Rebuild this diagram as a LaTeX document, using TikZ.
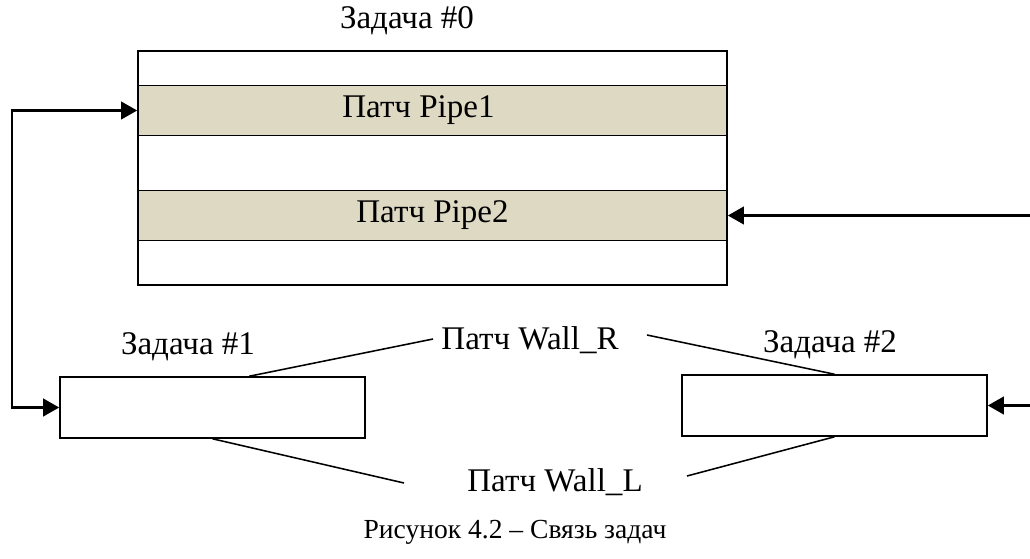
\documentclass[tikz,border=0pt]{standalone}
\usepackage{fontspec}
\setmainfont{Liberation Serif}
\usetikzlibrary{arrows.meta,positioning,calc}
\definecolor{patchFill}{HTML}{DDD9C3}
\tikzset{
  taskbox/.style={draw, line width=1.1pt, fill=white, inner sep=0pt,
    minimum width=7.625cm, minimum height=1.525cm},
  patchband/.style={taskbox, fill=patchFill, minimum width=14.725cm, minimum height=1.25cm},
  tasklabel/.style={inner sep=1pt},
  link/.style={-{Triangle[length=4mm, width=4.4mm]}, line width=1.5pt},
  link2/.style={{Triangle[length=4mm, width=4.4mm]}-{Triangle[length=4mm, width=4.4mm]}, line width=1.5pt},
  patchline/.style={line width=1.1pt}
}
\begin{document}
\begin{tikzpicture}[x=0.025cm, y=-0.025cm, font=\fontsize{23.5}{28}\selectfont]
  \useasboundingbox (0,0) rectangle (1030,558);
  % task #0 with its two patches
  \node[taskbox, minimum width=14.725cm, minimum height=5.85cm] (task0) at (432.5,168) {};
  \node[patchband] (pipe1) at (432.5,110.5) {\hspace*{-20pt}Патч Pipe1};
  \node[patchband] (pipe2) at (432.5,215.5) {Патч Pipe2};
  \node[tasklabel] (lbl0) at (407,21) {Задача \#0};
  % tasks #1 and #2
  \node[taskbox] (task1) at (212.5,407.5) {};
  \node[taskbox] (task2) at (834.5,405.5) {};
  \node[tasklabel] (lbl1) at (188,347) {Задача \#1};
  \node[tasklabel] (lbl2) at (830,345) {Задача \#2};
  \node[tasklabel] (wallR) at (530,340) {Патч Wall\_R};
  \node[tasklabel] (wallL) at (555,482) {Патч Wall\_L};
  \node[tasklabel, font=\fontsize{19.6}{24}\selectfont] (caption) at (515,532) {Рисунок 4.2 – Связь задач};
  % links
  \coordinate (lbus) at (12,260);
  \coordinate (rin1) at (1030,215.5);
  \coordinate (rin2) at (1030,405.5);
  \draw[link2] (pipe1.west) -| (lbus) |- (task1.west);
  \draw[link] (rin1) -- (pipe2.east);
  \draw[link] (rin2) -- (task2.east);
  % wall patches
  \coordinate (wR1) at (433,339);
  \coordinate (wR2) at (647,335);
  \coordinate (wL1) at (404,483);
  \coordinate (wL2) at (687,476);
  \draw[patchline] ($(task1.north west)!0.62!(task1.north east)$) -- (wR1);
  \draw[patchline] (wR2) -- (task2.north);
  \draw[patchline] (task1.south) -- (wL1);
  \draw[patchline] (wL2) -- (task2.south);
\end{tikzpicture}
\end{document}
